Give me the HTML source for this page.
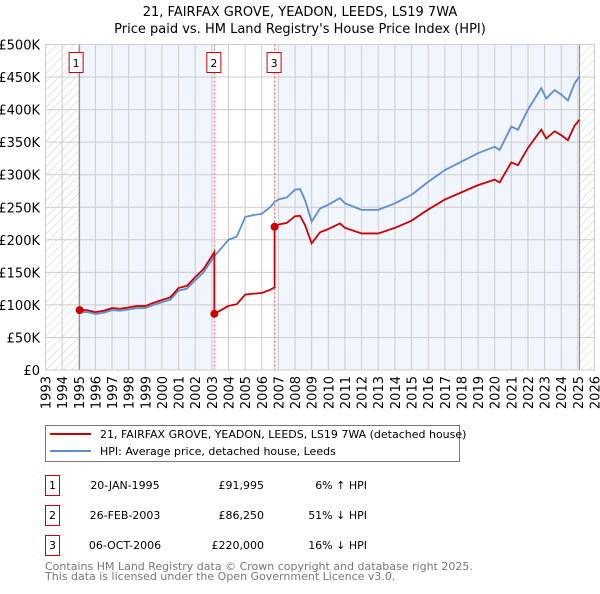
<!DOCTYPE html>
<html><head><meta charset="utf-8"><style>
body{margin:0;background:#fff;font-family:"DejaVu Sans","Liberation Sans",sans-serif;}
svg text{font-family:"DejaVu Sans","Liberation Sans",sans-serif;}
</style></head><body>
<svg id="chart" width="600" height="590" viewBox="0 0 600 590" xmlns="http://www.w3.org/2000/svg">
<defs><pattern id="hatch" patternUnits="userSpaceOnUse" width="6" height="6" patternTransform="rotate(45)"><line x1="0" y1="0" x2="0" y2="6" stroke="#ccc" stroke-width="1"/></pattern></defs>
<text x="300" y="16" text-anchor="middle" font-size="13">21, FAIRFAX GROVE, YEADON, LEEDS, LS19 7WA</text>
<text x="300" y="33" text-anchor="middle" font-size="13">Price paid vs. HM Land Registry's House Price Index (HPI)</text>
<g id="plot"></g>
<rect x="45.5" y="425.5" width="414" height="36" fill="#fff" stroke="#777"/>
<line x1="50" y1="434" x2="91" y2="434" stroke="#cc0000" stroke-width="2"/>
<text x="100" y="438" font-size="11">21, FAIRFAX GROVE, YEADON, LEEDS, LS19 7WA (detached house)</text>
<line x1="50" y1="451" x2="91" y2="451" stroke="#5b8fd1" stroke-width="2"/>
<text x="100" y="455" font-size="11">HPI: Average price, detached house, Leeds</text>
<g font-size="11">
<rect x="45.5" y="475.5" width="14" height="20" fill="#fff" stroke="#cc0000"/><text x="52.5" y="489" text-anchor="middle">1</text>
<text x="125" y="489" text-anchor="middle">20-JAN-1995</text><text x="264" y="489" text-anchor="end">£91,995</text><text x="367" y="489" text-anchor="end">6% ↑ HPI</text>
<rect x="45.5" y="505.5" width="14" height="20" fill="#fff" stroke="#cc0000"/><text x="52.5" y="519" text-anchor="middle">2</text>
<text x="125" y="519" text-anchor="middle">26-FEB-2003</text><text x="264" y="519" text-anchor="end">£86,250</text><text x="367" y="519" text-anchor="end">51% ↓ HPI</text>
<rect x="45.5" y="535.5" width="14" height="20" fill="#fff" stroke="#cc0000"/><text x="52.5" y="549" text-anchor="middle">3</text>
<text x="125" y="549" text-anchor="middle">06-OCT-2006</text><text x="264" y="549" text-anchor="end">£220,000</text><text x="367" y="549" text-anchor="end">16% ↓ HPI</text>
</g>
<text x="45" y="570" font-size="11" fill="#777">Contains HM Land Registry data © Crown copyright and database right 2025.</text>
<text x="45" y="580" font-size="11" fill="#777">This data is licensed under the Open Government Licence v3.0.</text>
</svg>
<script>
const hpiYears=[1995.05,1995.5,1996,1996.5,1997,1997.5,1998,1998.5,1999,1999.5,2000,2000.5,2001,2001.5,2002,2002.5,2003.15,2003.6,2004,2004.5,2005,2005.5,2006,2006.5,2006.77,2007,2007.5,2008,2008.3,2008.6,2009,2009.5,2010,2010.7,2011,2012,2013,2014,2015,2016,2017,2018,2019,2020,2020.3,2021,2021.4,2022,2022.8,2023.1,2023.6,2024,2024.4,2024.8,2025.1];
const hpiValues=[89000,89000,86000,88000,92000,91000,93000,95000,95000,100000,104000,108000,122000,125000,138000,150000,175000,188000,200000,205000,235000,238000,240000,250000,258000,262000,265000,277000,278000,261000,228000,248000,254000,264000,256000,246000,246000,256000,269000,289000,307000,320000,333000,343000,338000,374000,369000,400000,433000,417000,430000,423000,414000,440000,451000];
const saleYears=[1995.05,2003.15,2006.77];
const salePrices=[91995,86250,220000];
const saleLabels=["1","2","3"];
const yTicks=[0,50000,100000,150000,200000,250000,300000,350000,400000,450000,500000];
const yTickLabels=["£0","£50K","£100K","£150K","£200K","£250K","£300K","£350K","£400K","£450K","£500K"];
const xYears=[1993,1994,1995,1996,1997,1998,1999,2000,2001,2002,2003,2004,2005,2006,2007,2008,2009,2010,2011,2012,2013,2014,2015,2016,2017,2018,2019,2020,2021,2022,2023,2024,2025,2026];
const X0=45.5,X1=594.5,Y0=370,Y1=44.5,YR0=1993,YR1=2026,VMAX=500000;
const xs=y=>X0+(y-YR0)/(YR1-YR0)*(X1-X0);
const ys=v=>Y0-v/VMAX*(Y0-Y1);
const NS="http://www.w3.org/2000/svg";
const g=document.getElementById('plot');
function mk(t,a,p){const e=document.createElementNS(NS,t);for(const k in a)e.setAttribute(k,a[k]);(p||g).appendChild(e);return e;}
const endY=2025.1;
const bg=mk('rect',{x:xs(saleYears[0]),y:Y1,width:xs(endY)-xs(saleYears[0]),height:Y0-Y1,fill:'#f1f5fd'});


const wb=mk('rect',{x:xs(saleYears[1]),y:Y1,width:xs(saleYears[2])-xs(saleYears[1]),height:Y0-Y1,fill:'#fff'});


const h1=mk('rect',{x:X0,y:Y1,width:xs(saleYears[0])-X0,height:Y0-Y1,fill:'url(#hatch)'});


const h2=mk('rect',{x:xs(endY),y:Y1,width:X1-xs(endY),height:Y0-Y1,fill:'url(#hatch)'});


yTicks.forEach((v,i)=>{
 const l=mk('line',{x1:X0,x2:X1,y1:ys(v),y2:ys(v),stroke:'#ccc','stroke-width':1});
 
 
 const t=mk('text',{x:40,y:ys(v)+5,'text-anchor':'end','font-size':13});
 
 
 t.textContent=yTickLabels[i];
});
xYears.forEach(yr=>{
 const l=mk('line',{x1:xs(yr),x2:xs(yr),y1:Y1,y2:Y0,stroke:'#ccc','stroke-width':1});
 
 
 const t=mk('text',{x:0,y:0,'font-size':13,'text-anchor':'end',transform:`translate(${xs(yr)+5},${Y0+6}) rotate(-90)`});
 
 
 t.textContent=yr;
});
const vl1=mk('line',{x1:xs(saleYears[0]),x2:xs(saleYears[0]),y1:Y1,y2:Y0,stroke:'#888','stroke-width':1});


const vle=mk('line',{x1:xs(endY),x2:xs(endY),y1:Y1,y2:Y0,stroke:'#888','stroke-width':1});


[1,2].forEach(i=>{
 const l=mk('line',{x1:xs(saleYears[i]),x2:xs(saleYears[i]),y1:Y1,y2:Y0,stroke:'#f06060','stroke-width':1,'stroke-dasharray':'2,2'});
 
 
});
function interp(yr){for(let i=0;i<hpiYears.length-1;i++){if(yr<=hpiYears[i+1]){const f=(yr-hpiYears[i])/(hpiYears[i+1]-hpiYears[i]);return hpiValues[i]+f*(hpiValues[i+1]-hpiValues[i]);}}return hpiValues[hpiValues.length-1];}
const hp=mk('polyline',{points:hpiYears.map((y,i)=>xs(y)+','+ys(hpiValues[i])).join(' '),fill:'none',stroke:'#5b8fd1','stroke-width':1.8});


let pts=[];
for(let s=0;s<saleYears.length;s++){
 const ratio=salePrices[s]/interp(saleYears[s]);
 const end=s<saleYears.length-1?saleYears[s+1]:endY;
 pts.push(xs(saleYears[s])+','+ys(salePrices[s]));
 hpiYears.forEach((y,i)=>{if(y>saleYears[s]&&y<end)pts.push(xs(y)+','+ys(hpiValues[i]*ratio));});
 pts.push(xs(end)+','+ys(interp(end)*ratio));
}
const pl=mk('polyline',{points:pts.join(' '),fill:'none',stroke:'#cc0000','stroke-width':1.8});


saleYears.forEach((y,i)=>{
 const c=mk('circle',{cx:xs(y),cy:ys(salePrices[i]),r:4,fill:'#cc0000'});
 
 
 const bx=xs(y)-(i==0?10:7);
 const r=mk('rect',{x:bx-0.5,y:52.5,width:14,height:20,fill:'#fff',stroke:'#cc0000'});
 
 
 const t=mk('text',{x:bx+6.5,y:67,'text-anchor':'middle','font-size':11});
 
 
 t.textContent=saleLabels[i];
});
const fr=mk('rect',{x:X0,y:Y1,width:X1-X0,height:Y0-Y1,fill:'none',stroke:'#ccc'});


</script>
</body></html>
